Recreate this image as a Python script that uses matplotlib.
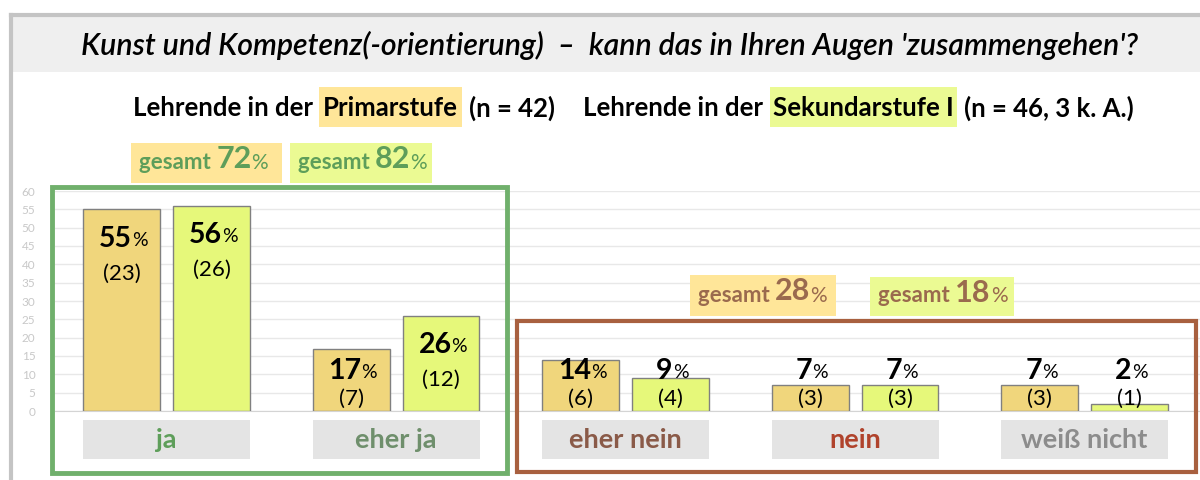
import numpy as np
import matplotlib
matplotlib.use('Agg')
import matplotlib.pyplot as plt
from matplotlib.patches import Rectangle
from matplotlib.transforms import offset_copy

plt.rcParams['font.family'] = ['Lato', 'DejaVu Sans']

# data
categories = ['ja', 'eher ja', 'eher nein', 'nein', 'weiß nicht']
primar_pct = [55, 17, 14, 7, 7]
primar_n = [23, 7, 6, 3, 3]
sek_pct = [56, 26, 9, 7, 2]
sek_n = [26, 12, 4, 3, 1]
gesamt_pos = [72, 82]
gesamt_neg = [28, 18]
y_ticks = list(range(0, 61, 5))

cat_colors = ['#5E9E5A', '#6F8F6C', '#8A5A48', '#B0432C', '#8C8C8C']
c_primar = '#F0D67C'
c_sek = '#E6F87A'
c_primar_hl = '#FFE699'
c_sek_hl = '#EBFA93'
c_green = '#70B06C'
c_brown = '#A8603F'

W, H = 1200, 480
fig = plt.figure(figsize=(12, 4.8), dpi=100)

def fx(x):
    return x / W

def fy(y):
    return 1 - y / H

def box(x0, y0, x1, y1, **kw):
    r = Rectangle((fx(x0), fy(y1)), fx(x1) - fx(x0), fy(y0) - fy(y1),
                  transform=fig.transFigure, **kw)
    fig.add_artist(r)
    return r

# outer frame + title band
box(13, 17, 1200, 72, fc='#EFEFEF', ec='none', zorder=0)
fig.add_artist(plt.Line2D([fx(11), fx(11)], [fy(15), 0], transform=fig.transFigure,
                          color='#C4C4C4', lw=3))
fig.add_artist(plt.Line2D([fx(11), 1], [fy(15), fy(15)], transform=fig.transFigure,
                          color='#C4C4C4', lw=3))
fig.text(fx(610), fy(45), "Kunst und Kompetenz(-orientierung)  –  kann das in Ihren Augen 'zusammengehen'?",
         ha='center', va='center', fontsize=21.8, style='italic', fontweight='semibold')

# header line
hy = fy(108)
hfs = 18.5
fig.text(fx(133), hy, 'Lehrende in der', ha='left', va='center', fontsize=hfs, fontweight='bold')
box(319, 87, 462, 127, fc=c_primar_hl, ec='none')
fig.text(fx(390), hy, 'Primarstufe', ha='center', va='center', fontsize=hfs, fontweight='bold')
fig.text(fx(469), hy, '(n = 42)', ha='left', va='center', fontsize=hfs, fontweight='bold')
fig.text(fx(583), hy, 'Lehrende in der', ha='left', va='center', fontsize=hfs, fontweight='bold')
box(770, 87, 957, 127, fc=c_sek_hl, ec='none')
fig.text(fx(863), hy, 'Sekundarstufe I', ha='center', va='center', fontsize=hfs, fontweight='bold')
fig.text(fx(964), hy, '(n = 46, 3 k. A.)', ha='left', va='center', fontsize=hfs, fontweight='bold')

# main axes
ax = fig.add_axes([fx(55), fy(411), fx(1200) - fx(55), fy(191) - fy(411)])
x = np.arange(len(categories))
w = 0.335
off = 0.196
ax.bar(x - off, primar_pct, w, color=c_primar, edgecolor='#808080', lw=1, zorder=3)
ax.bar(x + off, sek_pct, w, color=c_sek, edgecolor='#808080', lw=1, zorder=3)
ax.set_xlim(-0.486, 4.503)
ax.set_ylim(0, 60)
ax.set_yticks(y_ticks)
ax.tick_params(axis='y', length=0, pad=14, labelsize=8.5, labelcolor='#C8C8C8')
ax.set_xticks([])
ax.grid(axis='y', color='#E8E8E8', lw=1, zorder=0)
for s in ['top', 'right', 'left']:
    ax.spines[s].set_visible(False)
ax.spines['bottom'].set_color('#D4D4D4')

def pct_label(xc, yc, v):
    tr = offset_copy(ax.transData, fig=fig, x=-6, y=0, units='dots')
    t = ax.text(xc, yc, str(v), ha='center', va='center', fontsize=20.5,
                fontweight='bold', transform=tr, zorder=5)
    ax.annotate('%', xy=(1, 0.12), xycoords=t, ha='left', va='bottom',
                fontsize=14, zorder=5)

for vals, ns, sign in [(primar_pct, primar_n, -1), (sek_pct, sek_n, 1)]:
    for i, (v, n) in enumerate(zip(vals, ns)):
        xc = x[i] + sign * off
        pct_label(xc, max(v - 8, 11), v)
        ax.text(xc, max(v - 17.5, 3.3), f'({n})', ha='center', va='center',
                fontsize=16, zorder=5)

# category label boxes
for i, cat in enumerate(categories):
    ax.add_patch(Rectangle((x[i] - 0.364, -13.1), 0.728, 10.6, fc='#E4E4E4',
                           ec='none', clip_on=False))
    ax.text(x[i], -7.8, cat, ha='center', va='center', fontsize=19.5,
            fontweight='bold', color=cat_colors[i], clip_on=False)

# group frames
box(52, 187, 507, 473, fill=False, ec=c_green, lw=3.5, zorder=6)
box(517, 321, 1196, 472, fill=False, ec=c_brown, lw=3, zorder=6)

def gesamt(x0, y0, x1, y1, fc, val, color):
    box(x0, y0, x1, y1, fc=fc, ec='none', zorder=2)
    t1 = fig.text(fx(x0 + 8), fy((y0 + y1) / 2 + 6), 'gesamt ', ha='left',
                  va='baseline', fontsize=16, fontweight='bold', color=color)
    a = fig.add_artist(plt.Annotation(str(val), xy=(1, 0), xycoords=t1, ha='left',
                                      va='bottom', fontsize=22, fontweight='bold',
                                      color=color))
    fig.add_artist(plt.Annotation('%', xy=(1, 0), xycoords=a, ha='left',
                                  va='bottom', fontsize=15, color=color))

gesamt(131, 143, 282, 183, c_primar_hl, gesamt_pos[0], '#5E9E5A')
gesamt(290, 143, 432, 183, c_sek_hl, gesamt_pos[1], '#5E9E5A')
gesamt(690, 275, 836, 316, c_primar_hl, gesamt_neg[0], '#9A6A4E')
gesamt(870, 277, 1014, 316, c_sek_hl, gesamt_neg[1], '#9A6A4E')

fig.savefig('out.png', dpi=100)
